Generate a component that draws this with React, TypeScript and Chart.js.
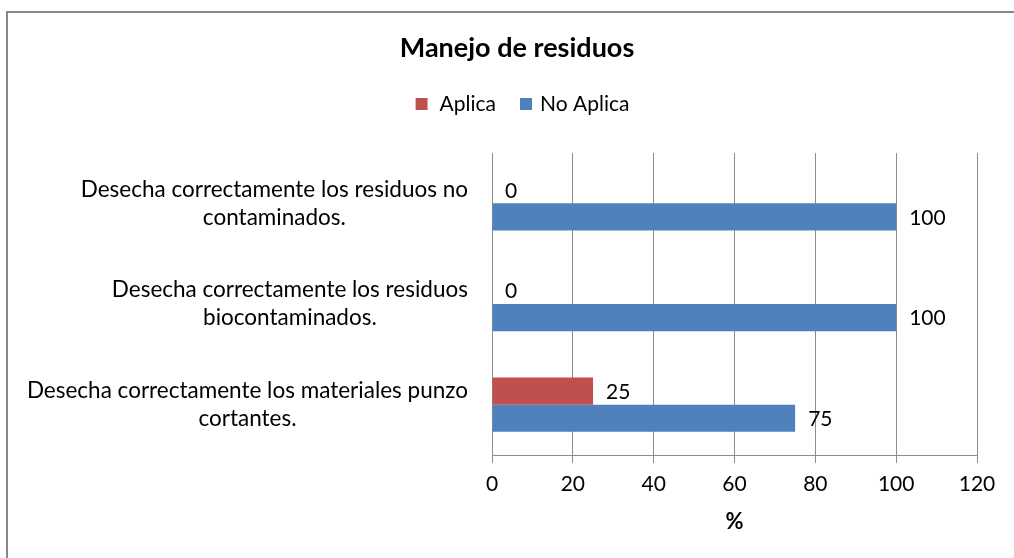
import React, { useEffect, useRef } from "react";
import { Chart, registerables } from "chart.js";

Chart.register(...registerables);

const chartTitle = "Manejo de residuos";
const categories: string[][] = [
  ["Desecha correctamente los residuos no", "contaminados."],
  ["Desecha correctamente los residuos", "biocontaminados."],
  ["Desecha correctamente los materiales punzo", "cortantes."],
];
const seriesNames = ["Aplica", "No Aplica"];
const aplicaValues = [0, 0, 25];
const noAplicaValues = [100, 100, 75];
const xTicks = [0, 20, 40, 60, 80, 100, 120];
const xAxisTitle = "%";

const RED = "#C0504D";
const BLUE = "#4F81BD";
const GRID = "#8C8C8C";
const FONT = "Lato";

const overlay = {
  id: "overlay",
  afterDraw(chart: any) {
    const ctx = chart.ctx as CanvasRenderingContext2D;
    const area = chart.chartArea;
    ctx.save();
    // outer frame
    ctx.strokeStyle = "#878787";
    ctx.lineWidth = 2;
    ctx.strokeRect(7, 12, 1040, 600);

    // title
    ctx.fillStyle = "#000";
    ctx.font = `bold 27px ${FONT}`;
    ctx.textAlign = "center";
    ctx.textBaseline = "alphabetic";
    ctx.fillText(chartTitle, 517, 57);

    // legend
    ctx.font = `21px ${FONT}`;
    ctx.textBaseline = "middle";
    ctx.textAlign = "left";
    const legendY = 104;
    const w0 = ctx.measureText(seriesNames[0]).width;
    const w1 = ctx.measureText(seriesNames[1]).width;
    const box = 12, gap = 12, between = 24, gap2 = 8;
    const total = box + gap + w0 + between + box + gap2 + w1;
    let lx = 522.5 - total / 2;
    ctx.fillStyle = RED;
    ctx.fillRect(lx, legendY - box / 2, box, box);
    ctx.fillStyle = "#000";
    ctx.fillText(seriesNames[0], lx + box + gap, legendY);
    lx += box + gap + w0 + between;
    ctx.fillStyle = BLUE;
    ctx.fillRect(lx, legendY - box / 2, box, box);
    ctx.fillStyle = "#000";
    ctx.fillText(seriesNames[1], lx + box + gap2, legendY);

    // y category labels
    const yScale = chart.scales.y;
    ctx.font = `22.5px ${FONT}`;
    categories.forEach((lines, i) => {
      const cy = yScale.getPixelForValue(i);
      const first = ctx.measureText(lines[0]).width;
      const right = 468;
      const center = right - first / 2;
      ctx.textAlign = "right";
      ctx.fillText(lines[0], right, cy - 14);
      ctx.textAlign = "center";
      ctx.fillText(lines[1], center, cy + 14);
    });

    // data labels
    ctx.font = `21px ${FONT}`;
    ctx.textAlign = "left";
    ctx.textBaseline = "middle";
    chart.data.datasets.forEach((ds: any, di: number) => {
      const meta = chart.getDatasetMeta(di);
      meta.data.forEach((bar: any, i: number) => {
        ctx.fillStyle = "#000";
        ctx.fillText(String(ds.data[i]), bar.x + 13, bar.y + 1);
      });
    });

    // x axis title
    ctx.font = `bold 22px ${FONT}`;
    ctx.textAlign = "center";
    ctx.fillText(xAxisTitle, (area.left + area.right) / 2, 522);
    ctx.restore();
  },
};

export default function App() {
  const ref = useRef<HTMLCanvasElement>(null);
  useEffect(() => {
    if (!ref.current) return;
    const chart = new Chart(ref.current, {
      type: "bar",
      data: {
        labels: categories.map((c) => c.join(" ")),
        datasets: [
          { label: seriesNames[0], data: aplicaValues, backgroundColor: RED },
          { label: seriesNames[1], data: noAplicaValues, backgroundColor: BLUE },
        ],
      },
      options: {
        indexAxis: "y",
        responsive: false,
        animation: false,
        layout: { padding: { left: 0, right: 37, top: 153, bottom: 0 } },
        datasets: { bar: { categoryPercentage: 0.54, barPercentage: 1.0 } },
        plugins: {
          legend: { display: false },
          title: { display: false },
          tooltip: { enabled: false },
        },
        scales: {
          y: {
            type: "category",
            ticks: { display: false },
            grid: { display: false },
            border: { display: false },
            afterFit: (s: any) => {
              s.width = 492;
            },
          },
          x: {
            min: 0,
            max: 120,
            afterBuildTicks: (s: any) => {
              s.ticks = xTicks.map((v) => ({ value: v }));
            },
            ticks: {
              color: "#000",
              font: { family: FONT, size: 21 },
              padding: 9,
            },
            grid: { color: GRID, tickLength: 8, lineWidth: 1 },
            border: { display: true, color: GRID },
            afterFit: (s: any) => {
              s.height = 103;
            },
          },
        },
      },
      plugins: [overlay],
    });
    return () => chart.destroy();
  }, []);
  return (
    <div style={{ position: "absolute", left: 0, top: 0, width: 1014, height: 558, background: "#fff" }}>
      <canvas ref={ref} width={1014} height={558} style={{ display: "block" }} />
    </div>
  );
}
